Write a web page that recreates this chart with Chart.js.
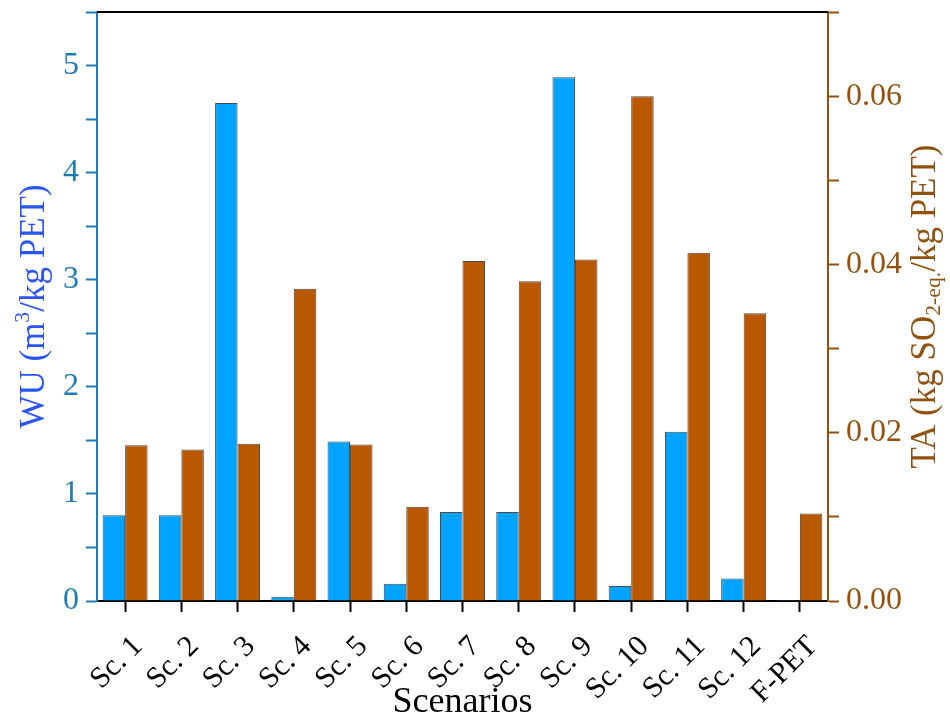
<!DOCTYPE html>
<html>
<head>
<meta charset="utf-8">
<script src="https://cdn.jsdelivr.net/npm/chart.js@4"></script>
<style>
  html, body { margin: 0; padding: 0; background: #fff; }
  #wrap { width: 950px; height: 717px; }
</style>
</head>
<body>
<div id="wrap"><canvas id="c" width="950" height="717"></canvas></div>
<script>
const categories = ['Sc. 1','Sc. 2','Sc. 3','Sc. 4','Sc. 5','Sc. 6','Sc. 7','Sc. 8','Sc. 9','Sc. 10','Sc. 11','Sc. 12','F-PET'];
const wuValues = [0.80, 0.80, 4.65, 0.04, 1.49, 0.16, 0.83, 0.83, 4.89, 0.14, 1.58, 0.21, 0.01];
const taValues = [0.0185, 0.0180, 0.0187, 0.0371, 0.0186, 0.0112, 0.0404, 0.0380, 0.0406, 0.0600, 0.0414, 0.0342, 0.0104];
const leftTitleParts = [['WU (m', 0], ['3', 1], ['/kg PET)', 0]];
const rightTitleParts = [['TA (kg SO', 0], ['2-eq.', -1], ['/kg PET)', 0]];
const xTitle = 'Scenarios';

const FONT = "'Liberation Serif', 'DejaVu Serif', serif";
const BLUE_AX = '#1f7ab8';
const BLUE_TITLE = '#2b55ee';
const BROWN_AX = '#92520f';

function drawRich(ctx, cx, cy, parts, size, color) {
  ctx.save();
  ctx.translate(cx, cy);
  ctx.rotate(-Math.PI / 2);
  ctx.fillStyle = color;
  ctx.textBaseline = 'middle';
  ctx.textAlign = 'left';
  let total = 0;
  const items = parts.map(([t, k]) => {
    const s = k === 0 ? size : size * 0.62;
    ctx.font = s + 'px ' + FONT;
    const w = ctx.measureText(t).width;
    total += w;
    return { t, s, w, dy: k === 1 ? -size * 0.32 : (k === -1 ? size * 0.25 : 0) };
  });
  let x = -total / 2;
  items.forEach(it => {
    ctx.font = it.s + 'px ' + FONT;
    ctx.fillText(it.t, x, it.dy);
    x += it.w;
  });
  ctx.restore();
}

const framePlugin = {
  id: 'frame',
  afterDraw(chart) {
    const { ctx, chartArea: a } = chart;
    ctx.save();
    ctx.strokeStyle = '#000';
    ctx.lineWidth = 2;
    ctx.beginPath();
    ctx.moveTo(a.left, a.top);
    ctx.lineTo(a.right, a.top);
    ctx.stroke();
    ctx.restore();
    const mid = (a.top + a.bottom) / 2;
    drawRich(ctx, 35, mid, leftTitleParts, 35, BLUE_TITLE);
    drawRich(ctx, 926, mid, rightTitleParts, 35, BROWN_AX);
  }
};

function noPad(s) { s.paddingTop = 0; s.paddingBottom = 0; s.paddingLeft = 0; s.paddingRight = 0; }

new Chart(document.getElementById('c'), {
  type: 'bar',
  data: {
    labels: categories,
    datasets: [
      { label: 'WU', data: wuValues, yAxisID: 'y', backgroundColor: '#00a3ff', borderColor: '#4a4a4a', borderWidth: 1, categoryPercentage: 0.8, barPercentage: 1.0 },
      { label: 'TA', data: taValues, yAxisID: 'y1', backgroundColor: '#b95800', borderColor: '#4a4a4a', borderWidth: 1, categoryPercentage: 0.8, barPercentage: 1.0 }
    ]
  },
  options: {
    responsive: false,
    animation: false,
    layout: { padding: { top: 12, left: 0, right: 0, bottom: 0 } },
    plugins: { legend: { display: false }, tooltip: { enabled: false } },
    scales: {
      x: {
        afterFit(s) { s.height = 116; noPad(s); },
        grid: { offset: false, drawOnChartArea: false, color: '#000', tickLength: 11, tickWidth: 2 },
        border: { color: '#000', width: 2 },
        ticks: { autoSkip: false, color: '#000', font: { family: FONT, size: 30 }, minRotation: 45, maxRotation: 45, padding: 17, labelOffset: 13 },
        title: { display: true, text: xTitle, color: '#000', font: { family: FONT, size: 36, lineHeight: 0.8 }, padding: { top: 0, bottom: 0 } }
      },
      y: {
        position: 'left',
        min: 0, max: 5.5,
        afterFit(s) { s.width = 97; noPad(s); },
        grid: { drawOnChartArea: false, color: BLUE_AX, tickLength: 11, tickWidth: 2 },
        border: { color: BLUE_AX, width: 2 },
        ticks: {
          stepSize: 0.5, color: BLUE_AX, font: { family: FONT, size: 32 }, padding: 7,
          callback: v => (Math.abs(v - Math.round(v)) < 1e-9 ? String(Math.round(v)) : '')
        }
      },
      y1: {
        position: 'right',
        min: 0, max: 0.07,
        afterFit(s) { s.width = 122; noPad(s); },
        grid: { drawOnChartArea: false, color: BROWN_AX, tickLength: 11, tickWidth: 2 },
        border: { color: BROWN_AX, width: 2 },
        ticks: {
          stepSize: 0.01, color: BROWN_AX, font: { family: FONT, size: 32 }, padding: 7,
          callback: v => { const k = Math.round(v * 100); return (k % 2 === 0) ? (k / 100).toFixed(2) : ''; }
        }
      }
    }
  },
  plugins: [framePlugin]
});
</script>
</body>
</html>
